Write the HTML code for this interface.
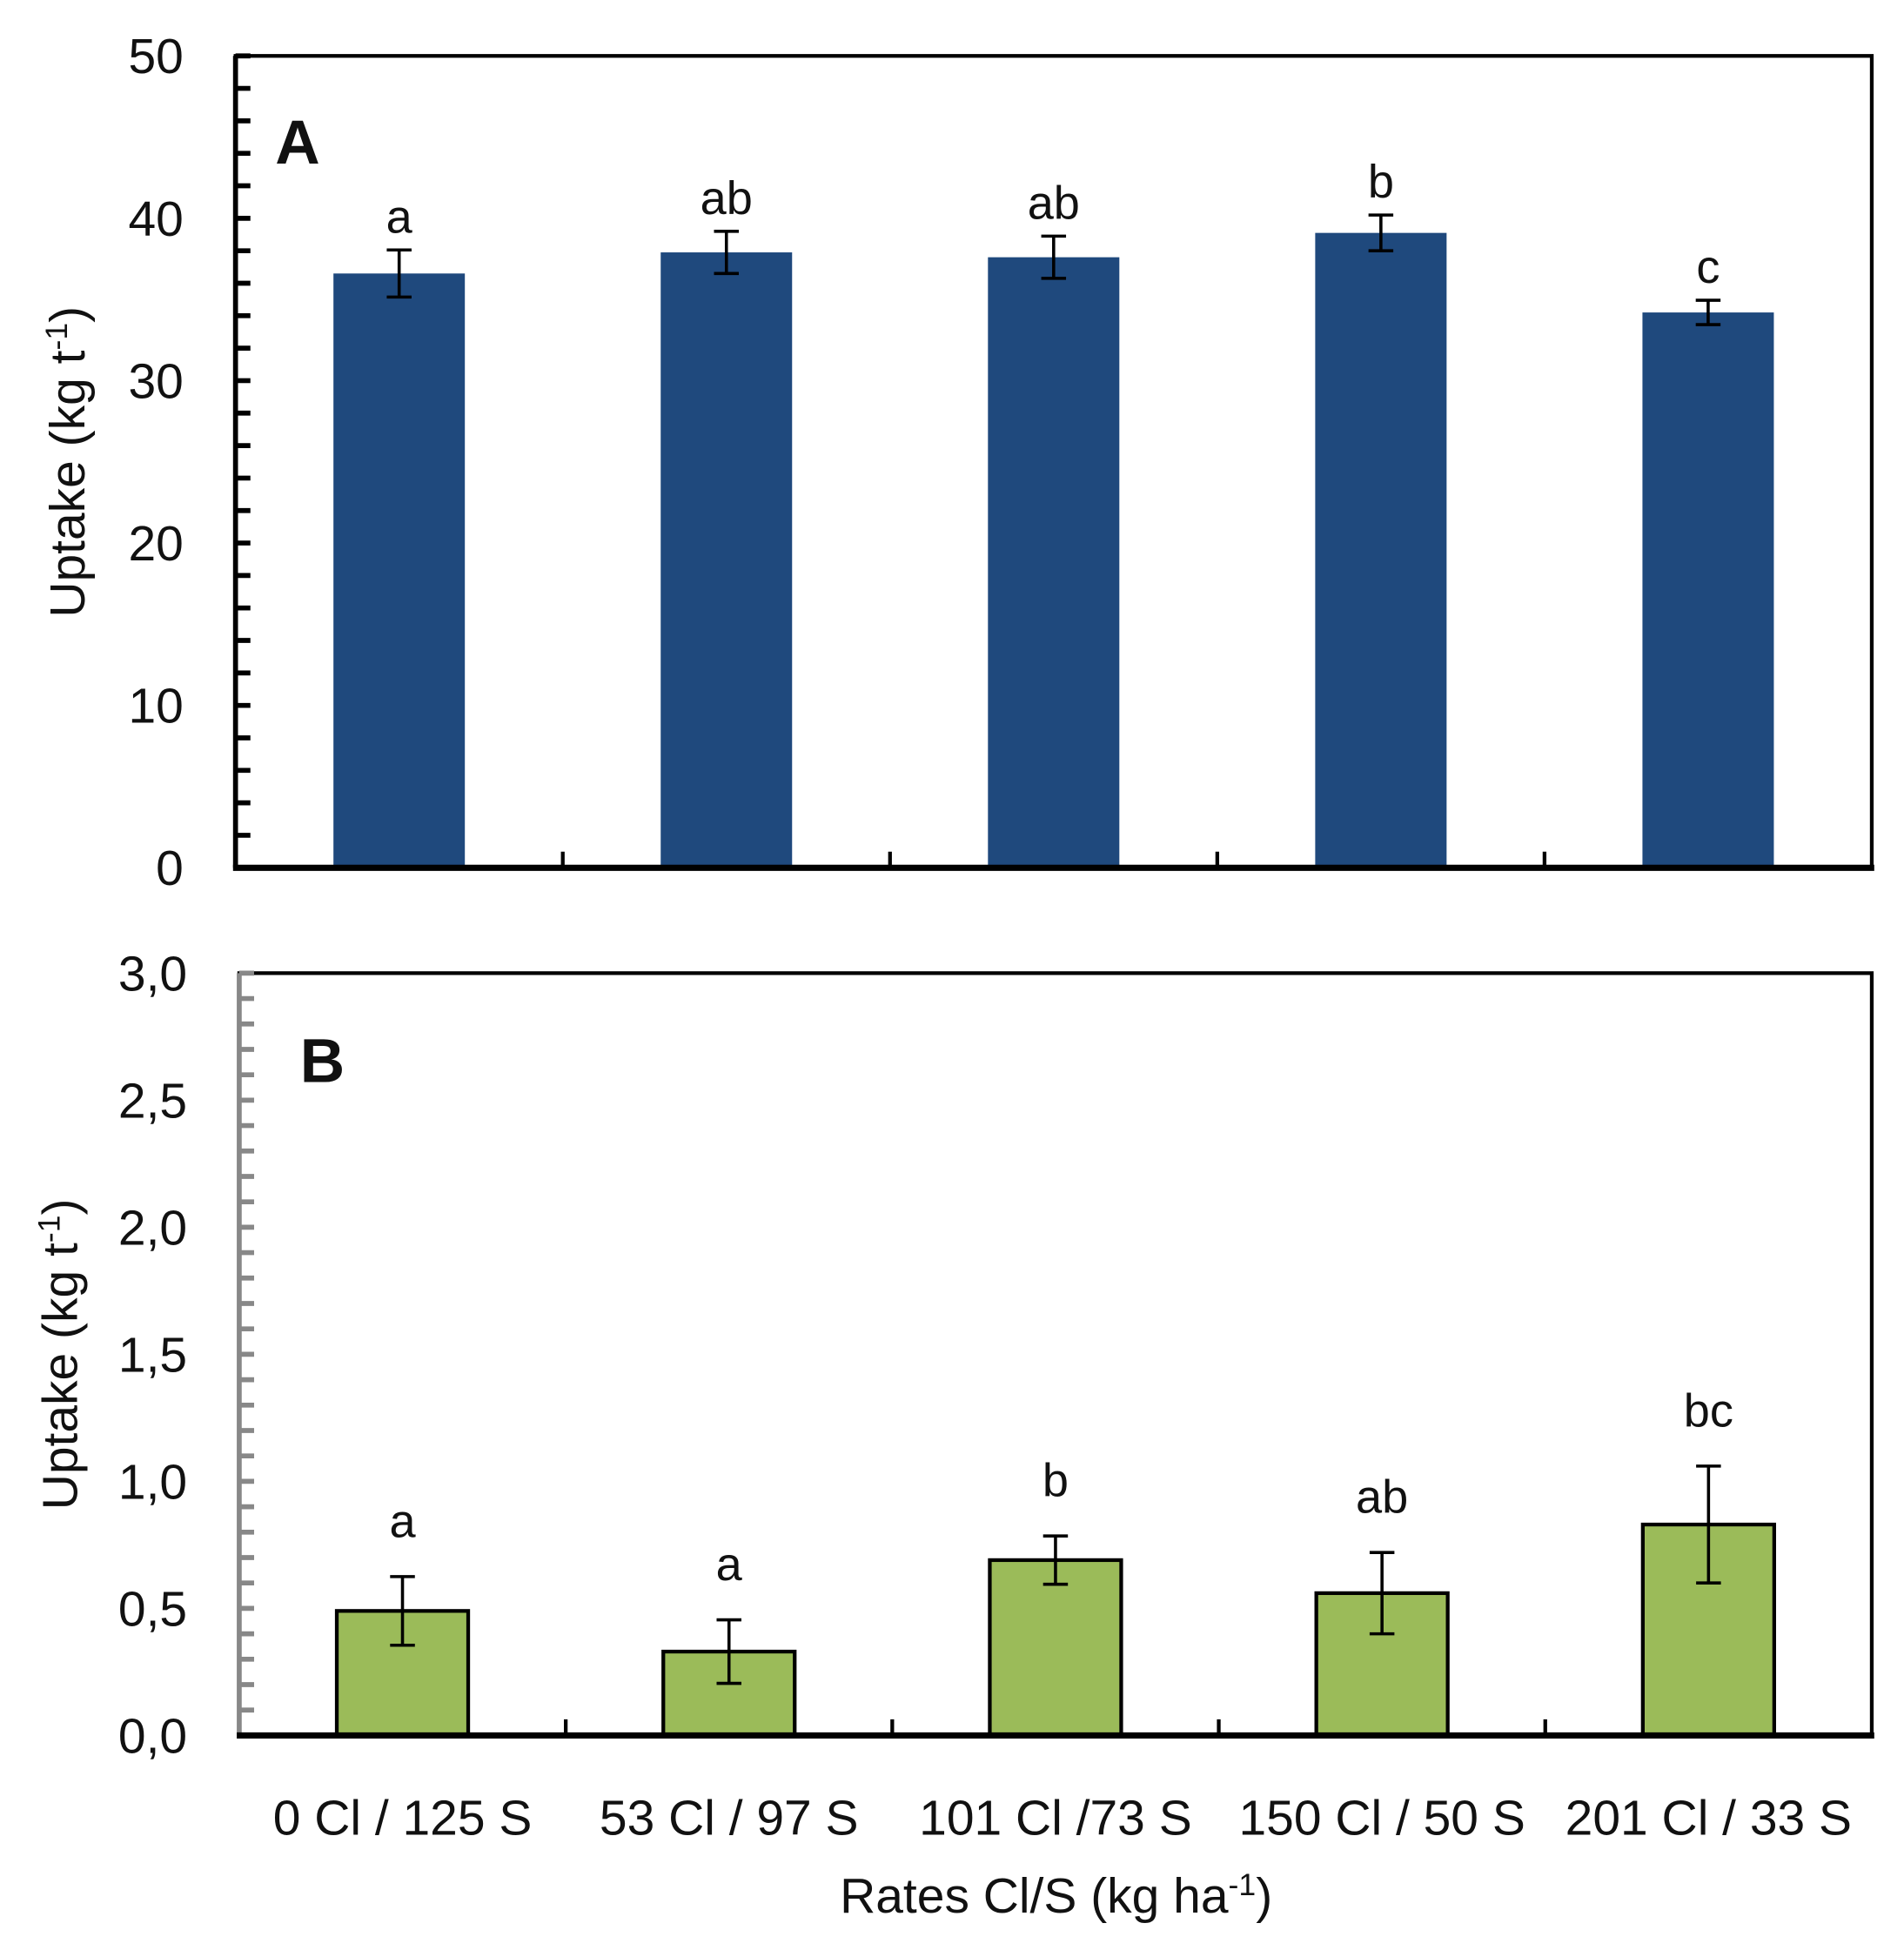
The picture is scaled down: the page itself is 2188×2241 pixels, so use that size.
<!DOCTYPE html>
<html><head><meta charset="utf-8"><style>
html,body{margin:0;padding:0;background:#fff}
svg{display:block}
text{font-family:"Liberation Sans Narrow","Liberation Sans",sans-serif;fill:#111}
</style></head><body>
<svg id="chart" width="2188" height="2241" viewBox="0 0 1536 1573" xmlns="http://www.w3.org/2000/svg"></svg>
<script>
const categories = ["0 Cl / 125 S","53 Cl / 97 S","101 Cl /73 S","150 Cl / 50 S","201 Cl / 33 S"];
const valuesA = [36.6, 37.9, 37.6, 39.1, 34.2];
const errorsA = [1.45, 1.3, 1.3, 1.1, 0.75];
const lettersA = ["a","ab","ab","b","c"];
const ticksA = [0,10,20,30,40,50];
const tickLabelsA = ["0","10","20","30","40","50"];
const valuesB = [0.49, 0.33, 0.69, 0.56, 0.83];
const errorsB = [0.135, 0.125, 0.095, 0.16, 0.23];
const lettersB = ["a","a","b","ab","bc"];
const ticksB = [0,0.5,1,1.5,2,2.5,3];
const tickLabelsB = ["0,0","0,5","1,0","1,5","2,0","2,5","3,0"];

const NS="http://www.w3.org/2000/svg";
const svg=document.getElementById('chart');
function el(tag,attrs,parent){const e=document.createElementNS(NS,tag);for(const k in attrs)e.setAttribute(k,attrs[k]);(parent||svg).appendChild(e);return e;}

function panel(cfg){
  const g=el('g',{});
  
  
  const {L,R,T,B,max}=cfg;
  const y=v=>B-(v/max)*(B-T);
  const band=(R-L)/categories.length;
  const x=i=>L+band*(i+0.5);
  const fr=el('rect',{x:L,y:T,width:R-L,height:B-T,fill:'none',stroke:'#000','stroke-width':cfg.frameW},g);
  
  
  const ax=el('line',{x1:L,y1:T,x2:L,y2:B,stroke:cfg.axisColor,'stroke-width':4},g);
  
  
  for(let v=0;v<=max+1e-9;v+=cfg.minor){
    const t=el('line',{x1:L,y1:y(v),x2:L+12,y2:y(v),stroke:cfg.axisColor,'stroke-width':4},g);
    
    
  }
  cfg.ticks.forEach((v,i)=>{
    const t=el('text',{x:L-42,y:y(v)+14,'text-anchor':'end','font-size':40},g);
    t.textContent=cfg.tickLabels[i];
    
    
  });
  for(let i=1;i<categories.length;i++){
    const t=el('line',{x1:L+band*i,y1:B,x2:L+band*i,y2:B-13,stroke:'#000','stroke-width':3},g);
    
    
  }
  cfg.values.forEach((v,i)=>{
    const bw=106;
    const b=el('rect',{x:x(i)-bw/2,y:y(v),width:bw,height:B-y(v),fill:cfg.fill,stroke:cfg.barStroke,'stroke-width':cfg.barStroke==='none'?0:3},g);
    
    
    const e=cfg.errors[i];
    const eg=el('path',{d:`M${x(i)},${y(v+e)}V${y(v-e)}M${x(i)-10},${y(v+e)}h20M${x(i)-10},${y(v-e)}h20`,stroke:'#000','stroke-width':2.5,fill:'none'},g);
    
    
    const lt=el('text',{x:x(i),y:y(v+e)-cfg.letterGap,'text-anchor':'middle','font-size':38},g);
    lt.textContent=cfg.letters[i];
    
    
  });
  const bl=el('line',{x1:L-2,y1:B,x2:R+2,y2:B,stroke:'#000','stroke-width':5},g);
  
  
  const pl=el('text',{x:cfg.labelX,y:cfg.labelY,'font-size':50,'font-weight':'bold','font-family':'Liberation Sans'},g);
  pl.textContent=cfg.panelLabel;
  
  
  const yt=el('text',{transform:`translate(${cfg.titleX},${(T+B)/2}) rotate(-90)`,'text-anchor':'middle','font-size':40},g);
  yt.innerHTML='Uptake (kg t<tspan dy="-14" font-size="25">-1</tspan><tspan dy="14">)</tspan>';
  
  
  return {x};
}

panel({name:'panel-a',L:190,R:1510,T:45,B:700,max:50,minor:2,ticks:ticksA,tickLabels:tickLabelsA,
  values:valuesA,errors:errorsA,letters:lettersA,fill:'#1f497d',barStroke:'none',axisColor:'#000',frameW:3,
  panelLabel:'A',labelX:222,labelY:132,titleX:68,letterGap:14});
const pb=panel({name:'panel-b',L:193,R:1510,T:785,B:1400,max:3,minor:0.1,ticks:ticksB,tickLabels:tickLabelsB,
  values:valuesB,errors:errorsB,letters:lettersB,fill:'#9bbb59',barStroke:'#000',axisColor:'#888',frameW:3,
  panelLabel:'B',labelX:242,labelY:873,titleX:62,letterGap:32});

categories.forEach((c,i)=>{
  const t=el('text',{x:pb.x(i),y:1480,'text-anchor':'middle','font-size':40});
  t.textContent=c;
  
  
});
const xt=el('text',{x:852,y:1543,'text-anchor':'middle','font-size':40});
xt.innerHTML='Rates Cl/S (kg ha<tspan dy="-14" font-size="25">-1</tspan><tspan dy="14">)</tspan>';


</script>
</body></html>
